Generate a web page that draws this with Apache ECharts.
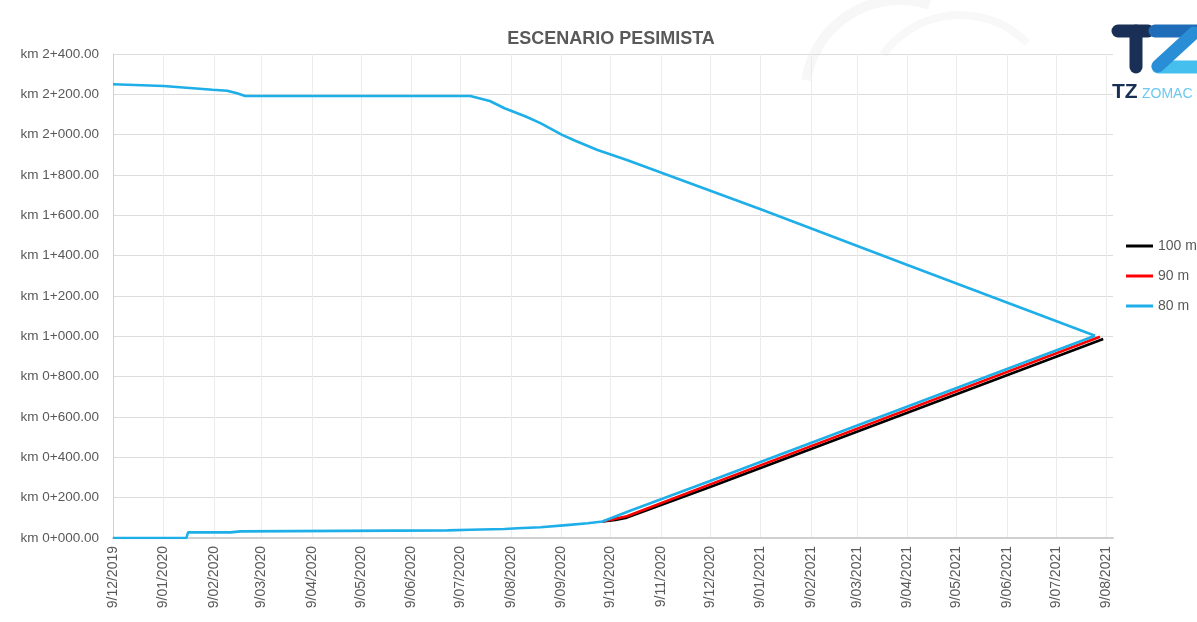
<!DOCTYPE html>
<html>
<head>
<meta charset="utf-8">
<script src="https://cdn.jsdelivr.net/npm/echarts@6/dist/echarts.min.js"></script>
<style>
html,body{margin:0;padding:0;background:#fff;}
#chart{width:1197px;height:622px;}
</style>
</head>
<body>
<div id="chart"></div>
<script>
// ---- Data ----
const axisStart = '2019-12-09';
const axisEnd = '2021-08-13';
const titleText = 'ESCENARIO PESIMISTA';
const legendNames = ['100 m', '90 m', '80 m'];
const yTicks = [0, 200, 400, 600, 800, 1000, 1200, 1400, 1600, 1800, 2000, 2200, 2400];

const upper80 = [
  ['2019-12-09', 2250], ['2020-01-09', 2241], ['2020-02-08', 2223], ['2020-02-17', 2218],
  ['2020-02-23', 2205], ['2020-02-28', 2192], ['2020-07-15', 2192], ['2020-07-27', 2167],
  ['2020-08-05', 2131], ['2020-08-18', 2090], ['2020-08-27', 2057], ['2020-09-09', 2000],
  ['2020-09-17', 1971], ['2020-10-01', 1924], ['2020-10-19', 1874], ['2021-01-09', 1630],
  ['2021-04-09', 1354], ['2021-08-02', 1003]
];
const lower80 = [
  ['2019-12-09', 0], ['2020-01-23', 0], ['2020-01-24', 28], ['2020-02-19', 28],
  ['2020-02-20', 33], ['2020-02-25', 33], ['2020-02-26', 38], ['2020-07-01', 38],
  ['2020-07-15', 41], ['2020-08-05', 45], ['2020-08-13', 48], ['2020-08-27', 53],
  ['2020-09-12', 64], ['2020-09-25', 73], ['2020-10-04', 82], ['2020-10-21', 135],
  ['2020-12-09', 283], ['2021-08-02', 1003]
];
const red90 = [
  ['2020-10-04', 82], ['2020-10-19', 108], ['2020-12-09', 266], ['2021-08-05', 998]
];
const black100 = [
  ['2020-10-04', 82], ['2020-10-12', 90], ['2020-10-19', 101], ['2020-12-09', 253], ['2021-08-07', 987]
];

// ---- Daily category axis (so ticks can sit on the 9th of each month) ----
function pad(n, w) { return String(n).padStart(w, '0'); }
const categories = [];
(function () {
  const p0 = axisStart.split('-').map(Number), p1 = axisEnd.split('-').map(Number);
  let t = Date.UTC(p0[0], p0[1] - 1, p0[2]);
  const tEnd = Date.UTC(p1[0], p1[1] - 1, p1[2]);
  while (t <= tEnd) {
    const d = new Date(t);
    categories.push(d.getUTCFullYear() + '-' + pad(d.getUTCMonth() + 1, 2) + '-' + pad(d.getUTCDate(), 2));
    t += 86400000;
  }
})();
const isTick = (idx, val) => val.slice(8) === '09';
const fmtDate = v => { const p = v.split('-'); return Number(p[2]) + '/' + p[1] + '/' + p[0]; };
const fmtKm = v => 'km ' + Math.floor(v / 1000) + '+' + pad(v % 1000, 3) + '.00';

const FONT = '"Liberation Sans", Arial, sans-serif';
const GREY = '#595959';
const BLUE = '#1eaee8';

const chart = echarts.init(document.getElementById('chart'), null, { renderer: 'canvas' });
chart.setOption({
  backgroundColor: '#ffffff',
  animation: false,
  textStyle: { fontFamily: FONT },
  title: {
    text: titleText,
    left: 606, top: 25, textAlign: 'center',
    textStyle: { fontFamily: FONT, fontWeight: 'bold', fontSize: 18, color: GREY }
  },
  legend: {
    orient: 'vertical',
    left: 1121, top: 234,
    icon: 'rect', itemWidth: 27, itemHeight: 3, itemGap: 16,
    data: legendNames,
    textStyle: { fontFamily: FONT, fontSize: 14, color: GREY }
  },
  grid: { left: 113, right: 84, top: 54, bottom: 84, containLabel: false },
  xAxis: {
    type: 'category',
    data: categories,
    boundaryGap: false,
    axisLine: { show: true, lineStyle: { color: '#d0d0d0', width: 2 } },
    axisTick: { show: false },
    axisLabel: {
      interval: isTick, rotate: 90, margin: 8,
      formatter: fmtDate, color: GREY, fontSize: 14, fontFamily: FONT
    },
    splitLine: { show: true, interval: isTick, lineStyle: { color: '#ececec', width: 1 } }
  },
  yAxis: {
    type: 'value',
    min: yTicks[0], max: yTicks[yTicks.length - 1], interval: yTicks[1] - yTicks[0],
    axisLine: { show: true, lineStyle: { color: '#d0d0d0', width: 1 } },
    axisTick: { show: false },
    axisLabel: { formatter: fmtKm, color: GREY, fontSize: 13.5, fontFamily: FONT, margin: 14 },
    splitLine: { show: true, lineStyle: { color: '#dcdcdc', width: 1 } }
  },
  series: [
    { name: legendNames[0], type: 'line', data: black100, showSymbol: false, color: '#000000',
      lineStyle: { width: 2.6, color: '#000000' }, z: 2 },
    { name: legendNames[1], type: 'line', data: red90, showSymbol: false, color: '#ff0000',
      lineStyle: { width: 2.6, color: '#ff0000' }, z: 3 },
    { name: legendNames[2], type: 'line', data: lower80, showSymbol: false, color: BLUE,
      lineStyle: { width: 2.6, color: BLUE }, z: 4 },
    { name: legendNames[2], type: 'line', data: upper80, showSymbol: false, color: BLUE,
      lineStyle: { width: 2.6, color: BLUE }, z: 4 }
  ],
  graphic: [
    // faint watermark swooshes
    { type: 'arc', shape: { cx: 900, cy: 95, r: 95, startAngle: Math.PI * 1.05, endAngle: Math.PI * 1.6 },
      style: { stroke: '#f7f7f7', lineWidth: 10, fill: null }, silent: true, z: -1 },
    { type: 'arc', shape: { cx: 960, cy: 110, r: 95, startAngle: Math.PI * 1.2, endAngle: Math.PI * 1.75 },
      style: { stroke: '#f8f8f8', lineWidth: 8, fill: null }, silent: true, z: -1 },
    // logo: T
    { type: 'line', shape: { x1: 1118, y1: 31, x2: 1148, y2: 31 },
      style: { stroke: '#1a2f55', lineWidth: 13, lineCap: 'round' }, z: 10 },
    { type: 'line', shape: { x1: 1136, y1: 31, x2: 1136, y2: 67 },
      style: { stroke: '#1a2f55', lineWidth: 13, lineCap: 'round' }, z: 10 },
    // logo: Z
    { type: 'line', shape: { x1: 1155, y1: 31, x2: 1200, y2: 31 },
      style: { stroke: '#1f6cb8', lineWidth: 13, lineCap: 'round' }, z: 10 },
    { type: 'line', shape: { x1: 1194, y1: 33, x2: 1158, y2: 66 },
      style: { stroke: '#2a8ed6', lineWidth: 13, lineCap: 'round' }, z: 11 },
    { type: 'line', shape: { x1: 1158, y1: 67, x2: 1200, y2: 67 },
      style: { stroke: '#45bfee', lineWidth: 13, lineCap: 'round' }, z: 10 },
    { type: 'text', x: 1112, y: 92,
      style: { text: 'TZ', fill: '#1a2f55', fontSize: 21, fontWeight: 'bold', fontFamily: FONT, textVerticalAlign: 'middle' }, z: 10 },
    { type: 'text', x: 1142, y: 94,
      style: { text: 'ZOMAC', fill: '#6cc8ef', fontSize: 14, fontFamily: FONT, textVerticalAlign: 'middle' }, z: 10 }
  ]
});
</script>
</body>
</html>
